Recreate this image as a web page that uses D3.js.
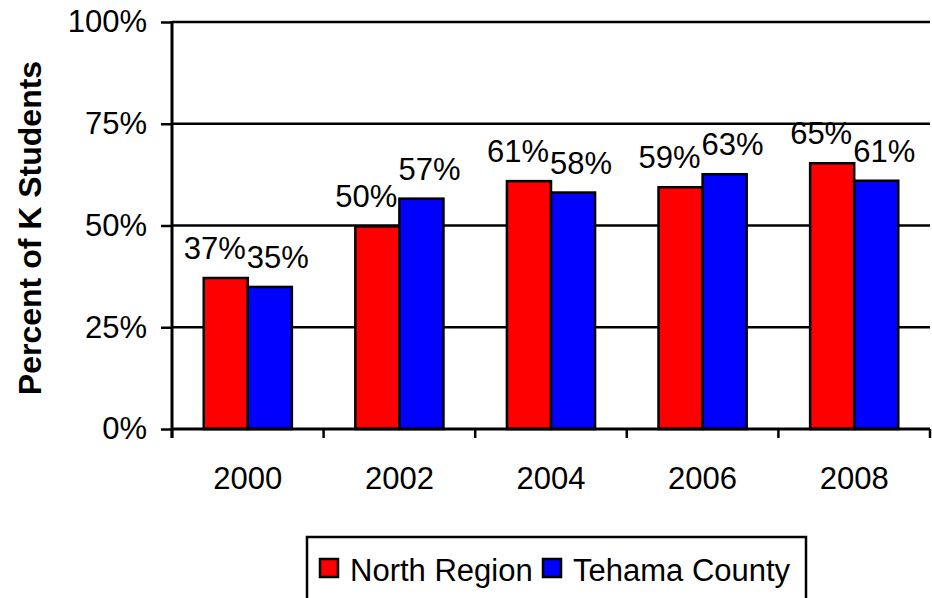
<!DOCTYPE html>
<html>
<head>
<meta charset="utf-8">
<script src="https://cdn.jsdelivr.net/npm/d3@7"></script>
<style>
  body { margin: 0; background: #fff; }
  text { font-family: "Liberation Sans", Arial, sans-serif; fill: #000; }
</style>
</head>
<body>
<div class="chart"></div>
<script>
const years = ['2000', '2002', '2004', '2006', '2008'];
const seriesNames = ['North Region', 'Tehama County'];
const northRegion = [0.371, 0.498, 0.609, 0.594, 0.653];
const tehamaCounty = [0.349, 0.566, 0.581, 0.626, 0.610];
const yTicks = [0, 0.25, 0.5, 0.75, 1];
const colors = ['#ff0000', '#0000ff'];

const width = 932, height = 598;
const plotLeft = 172, plotRight = 930, plotTop = 22, plotBottom = 429;
const fontSize = 31;

const svg = d3.select('.chart')
  .append('svg')
    .attr('width', width)
    .attr('height', height);

const x0 = d3.scaleBand().domain(years).range([plotLeft, plotRight]);
const x1 = d3.scaleBand().domain(seriesNames).range([0, x0.bandwidth()]).paddingOuter(0.72);
const y = d3.scaleLinear().domain([0, 1]).range([plotBottom, plotTop]);
const pct = d3.format('.0%');

// gridlines
svg.append('g')
  .selectAll('line')
  .data(yTicks.filter(d => d > 0))
  .enter().append('line')
    .attr('x1', plotLeft).attr('x2', plotRight)
    .attr('y1', d => y(d)).attr('y2', d => y(d))
    .attr('stroke', '#000').attr('stroke-width', 2.5);

// y axis
const yAxis = svg.append('g')
  .attr('transform', `translate(${plotLeft},0)`)
  .call(d3.axisLeft(y).tickValues(yTicks).tickFormat(pct).tickSize(11).tickPadding(14));
yAxis.select('.domain').remove();
yAxis.selectAll('.tick line').attr('stroke', '#000').attr('stroke-width', 2.5);
yAxis.selectAll('.tick text')
  .attr('font-size', fontSize)
  .attr('font-family', '"Liberation Sans", Arial, sans-serif');
svg.append('line')
  .attr('x1', plotLeft).attr('x2', plotLeft)
  .attr('y1', plotTop - 1).attr('y2', plotBottom + 9)
  .attr('stroke', '#000').attr('stroke-width', 3);

// bars
const rows = years.map((yr, i) => ({ year: yr, values: [northRegion[i], tehamaCounty[i]] }));
const groups = svg.append('g')
  .selectAll('g')
  .data(rows)
  .enter().append('g')
    .attr('transform', d => `translate(${x0(d.year)},0)`);

groups.selectAll('rect')
  .data(d => d.values.map((v, j) => ({ name: seriesNames[j], value: v, j })))
  .enter().append('rect')
    .attr('x', d => x1(d.name))
    .attr('width', x1.bandwidth())
    .attr('y', d => y(d.value))
    .attr('height', d => y(0) - y(d.value))
    .attr('fill', d => colors[d.j])
    .attr('stroke', '#000').attr('stroke-width', 2.5);

groups.selectAll('text.lbl')
  .data(d => d.values.map((v, j) => ({ name: seriesNames[j], value: v, j })))
  .enter().append('text')
    .attr('class', 'lbl')
    .attr('x', d => x1(d.name) + x1.bandwidth() / 2 + (d.j === 0 ? -11 : 8))
    .attr('y', d => y(d.value) - 19)
    .attr('text-anchor', 'middle')
    .attr('font-size', fontSize)
    .text(d => pct(d.value));

// x axis
svg.append('line')
  .attr('x1', plotLeft).attr('x2', plotRight)
  .attr('y1', plotBottom).attr('y2', plotBottom)
  .attr('stroke', '#000').attr('stroke-width', 3);
svg.append('g')
  .selectAll('line')
  .data(years.concat(['end']))
  .enter().append('line')
    .attr('x1', (d, i) => plotLeft + i * x0.step())
    .attr('x2', (d, i) => plotLeft + i * x0.step())
    .attr('y1', plotBottom).attr('y2', plotBottom + 9)
    .attr('stroke', '#000').attr('stroke-width', 2.5);
svg.append('g')
  .selectAll('text')
  .data(years)
  .enter().append('text')
    .attr('x', d => x0(d) + x0.bandwidth() / 2)
    .attr('y', 489)
    .attr('text-anchor', 'middle')
    .attr('font-size', fontSize)
    .text(d => d);

// y title
svg.append('text')
  .attr('transform', 'translate(41,228) rotate(-90)')
  .attr('text-anchor', 'middle')
  .attr('font-size', 32)
  .attr('font-weight', 'bold')
  .text('Percent of K Students');

// legend
const legend = svg.append('g');
legend.append('rect')
  .attr('x', 307).attr('y', 537)
  .attr('width', 499).attr('height', 80)
  .attr('fill', 'none').attr('stroke', '#000').attr('stroke-width', 2.5);
const legendX = [320, 543];
seriesNames.forEach((name, j) => {
  legend.append('rect')
    .attr('x', legendX[j]).attr('y', 559)
    .attr('width', 18).attr('height', 18)
    .attr('fill', colors[j]).attr('stroke', '#000').attr('stroke-width', 2.5);
  legend.append('text')
    .attr('x', legendX[j] + 30).attr('y', 581)
    .attr('font-size', fontSize)
    .text(name);
});
</script>
</body>
</html>
